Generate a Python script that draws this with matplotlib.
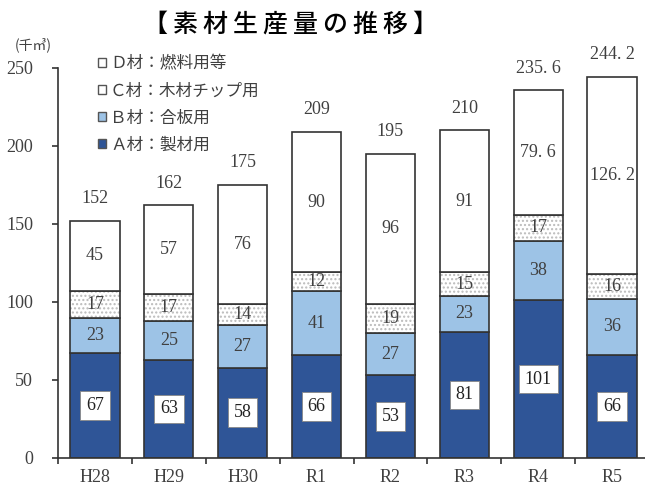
import matplotlib.pyplot as plt
from matplotlib.patches import Patch

# ------------------------------------------
# Data (千㎥)
# ------------------------------------------

years = ["H28", "H29", "H30", "R1", "R2", "R3", "R4", "R5"]

a_sawn = [67, 63, 58, 66, 53, 81, 101, 66]          # A材：製材用
b_plywood = [23, 25, 27, 41, 27, 23, 38, 36]        # B材：合板用
c_chip = [17, 17, 14, 12, 19, 15, 17, 16]           # C材：木材チップ用
d_fuel = [45, 57, 76, 90, 96, 91, 79.6, 126.2]      # D材：燃料用等

legend_labels = ["Ｄ材：燃料用等", "Ｃ材：木材チップ用", "Ｂ材：合板用", "Ａ材：製材用"]

title = "【素材生産量の推移】"

# ------------------------------------------
# Style
# ------------------------------------------

JP = ["Noto Sans CJK JP", "DejaVu Sans"]
NUM = ["Liberation Serif", "DejaVu Serif"]

A_COLOR = "#2f5597"
B_COLOR = "#9dc3e6"
EDGE = "#333333"
TEXT = "#404040"


def fmt(v):
    # decimals are written with a wide gap after the point
    return f"{v:g}".replace(".", ". ")


fig = plt.figure(figsize=(6.45, 4.87), dpi=100)
ax = fig.add_axes([58 / 645, 29 / 487, 591 / 645, 390 / 487])

x = list(range(len(years)))
width = 0.665

bottom_b = a_sawn
bottom_c = [a + b for a, b in zip(a_sawn, b_plywood)]
bottom_d = [c + v for c, v in zip(bottom_c, c_chip)]
totals = [d + v for d, v in zip(bottom_d, d_fuel)]

ax.bar(x, a_sawn, width, color=A_COLOR, edgecolor=EDGE, linewidth=1.2)
ax.bar(x, b_plywood, width, bottom=bottom_b, color=B_COLOR,
       edgecolor=EDGE, linewidth=1.2)

# dotted C segment: hatch layer first, then the outline
ax.bar(x, c_chip, width, bottom=bottom_c, color="white",
       edgecolor="#bbbbbb", hatch="....", linewidth=0)
ax.bar(x, c_chip, width, bottom=bottom_c, fill=False,
       edgecolor=EDGE, linewidth=1.2)

ax.bar(x, d_fuel, width, bottom=bottom_d, color="white",
       edgecolor=EDGE, linewidth=1.2)

# ------------------------------------------
# Segment labels
# ------------------------------------------

for i in x:
    ax.text(i, a_sawn[i] / 2, fmt(a_sawn[i]), ha="center", va="center",
            fontsize=13, family=NUM, color="#222222",
            bbox=dict(boxstyle="square,pad=0.32", facecolor="white",
                      edgecolor="#888888", linewidth=0.6))
    ax.text(i, bottom_b[i] + b_plywood[i] / 2, fmt(b_plywood[i]),
            ha="center", va="center", fontsize=13, family=NUM, color=TEXT)
    ax.text(i, bottom_c[i] + c_chip[i] / 2, fmt(c_chip[i]),
            ha="center", va="center", fontsize=13, family=NUM, color=TEXT)
    ax.text(i, bottom_d[i] + d_fuel[i] / 2, fmt(d_fuel[i]),
            ha="center", va="center", fontsize=13, family=NUM, color=TEXT)
    ax.annotate(fmt(round(totals[i], 1)), (i, totals[i]),
                xytext=(0, 16), textcoords="offset points",
                ha="center", va="center", fontsize=13, family=NUM, color=TEXT)

# ------------------------------------------
# Axes
# ------------------------------------------

ax.set_xlim(-0.5, len(years) - 0.5)
ax.set_ylim(0, 250)
ax.set_yticks(range(0, 251, 50))

ax.set_xticks(x)
ax.set_xticklabels(years)
ax.set_xticks([i + 0.5 for i in range(-1, len(years))], minor=True)
ax.tick_params(axis="x", which="major", length=0, pad=8)
ax.tick_params(axis="x", which="minor", length=4, width=1.2, color=EDGE)
ax.tick_params(axis="y", length=4, width=1.2, color=EDGE, pad=14)

for lab in ax.get_xticklabels() + ax.get_yticklabels():
    lab.set_fontfamily(NUM)
    lab.set_fontsize(13)
    lab.set_color(TEXT)

ax.spines["top"].set_visible(False)
ax.spines["right"].set_visible(False)
ax.spines["left"].set_color(EDGE)
ax.spines["bottom"].set_color(EDGE)
ax.spines["left"].set_linewidth(1.2)
ax.spines["bottom"].set_linewidth(1.2)

# ------------------------------------------
# Legend, unit and title
# ------------------------------------------

handles = [
    Patch(facecolor="white", edgecolor="#555555", linewidth=1.0),
    Patch(facecolor="white", edgecolor="#555555", linewidth=1.0),
    Patch(facecolor=B_COLOR, edgecolor="#555555", linewidth=1.0),
    Patch(facecolor=A_COLOR, edgecolor="#555555", linewidth=1.0),
]
leg = ax.legend(handles, legend_labels, loc="upper left",
                bbox_to_anchor=(90 / 645, 1 - 47 / 487),
                bbox_transform=fig.transFigure, frameon=False,
                prop={"family": JP, "size": 12},
                handlelength=0.45, handleheight=0.45, handletextpad=0.25,
                labelspacing=0.6, borderpad=0)
for t in leg.get_texts():
    t.set_color(TEXT)

fig.text(33 / 645, 1 - 45 / 487, "(千㎥)", ha="center", va="center",
         fontsize=10, family=JP, color=TEXT)

# title characters are spread out one by one
for k, ch in enumerate(title):
    fig.text((155 + 30 * k) / 645, 1 - 25 / 487, ch, ha="center",
             va="center", fontsize=18, family=JP, weight="medium",
             color="black")

fig.savefig("out.png", dpi=100)
